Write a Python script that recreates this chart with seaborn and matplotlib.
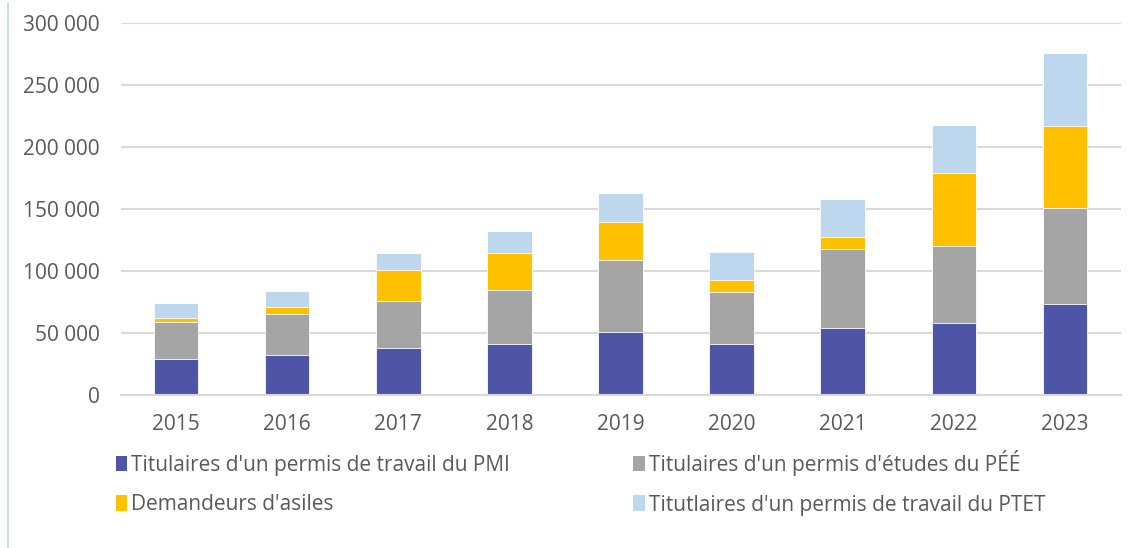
import seaborn as sns
import matplotlib.pyplot as plt
import pandas as pd
from matplotlib.patches import Patch
from matplotlib.lines import Line2D
from matplotlib.ticker import FuncFormatter

years = ["2015", "2016", "2017", "2018", "2019", "2020", "2021", "2022", "2023"]
pmi = [29300, 32300, 37600, 41100, 51100, 41100, 54300, 58300, 73400]
pee = [29800, 33300, 37900, 43900, 57500, 42200, 63400, 62100, 77600]
asile = [3200, 5600, 25500, 29500, 31200, 9700, 9900, 58900, 65900]
ptet = [11900, 12400, 13500, 17500, 23100, 22300, 30400, 38400, 58900]

labels = ["Titulaires d'un permis de travail du PMI",
          "Titulaires d'un permis d'études du PÉÉ",
          "Demandeurs d'asiles",
          "Titutlaires d'un permis de travail du PTET"]
colors = ["#4F55A6", "#A5A5A5", "#FFC000", "#BDD7EE"]

sns.set_style("white")
plt.rcParams["font.family"] = ["Open Sans", "DejaVu Sans"]

df = pd.DataFrame({"year": years, "pmi": pmi, "pee": pee, "asile": asile, "ptet": ptet})
df["c1"] = df["pmi"]
df["c2"] = df["c1"] + df["pee"]
df["c3"] = df["c2"] + df["asile"]
df["c4"] = df["c3"] + df["ptet"]

fig = plt.figure(figsize=(11.4, 5.48), dpi=100)
ax = fig.add_axes([120.5 / 1140, 1 - 395 / 548, 1000 / 1140, 372 / 548])

# draw cumulative totals from the top down so each layer covers the next
for col, color in zip(["c4", "c3", "c2", "c1"], colors[::-1]):
    sns.barplot(data=df, x="year", y=col, color=color, width=0.4,
                saturation=1, edgecolor="white", linewidth=0.6, ax=ax)

ax.set_ylim(0, 300000)
ax.set_yticks(range(0, 300001, 50000))
ax.yaxis.set_major_formatter(FuncFormatter(lambda v, p: f"{int(v):,}".replace(",", " ")))
ax.set_xlabel("")
ax.set_ylabel("")
ax.grid(axis="y", color="#D9D9D9", linewidth=1.5)
ax.set_axisbelow(True)
sns.despine(ax=ax, left=True, right=True, top=True)
ax.spines["bottom"].set_color("#D9D9D9")
ax.spines["bottom"].set_linewidth(1.5)
ax.tick_params(axis="y", length=0, pad=15, labelsize=15, labelcolor="#595959")
ax.tick_params(axis="x", length=0, pad=14, labelsize=15, labelcolor="#595959")

handles = [Patch(facecolor=c, edgecolor="none") for c in colors]
order = [0, 2, 1, 3]
fig.legend([handles[i] for i in order], [labels[i] for i in order],
           ncol=2, loc="upper left", bbox_to_anchor=(97 / 1140, 1 - 431 / 548),
           frameon=False, fontsize=15, labelcolor="#595959",
           handlelength=0.55, handleheight=0.8, handletextpad=0.2,
           labelspacing=0.9, columnspacing=5.9)

fig.add_artist(Line2D([8 / 1140, 8 / 1140], [0, 1 - 3 / 548],
                      transform=fig.transFigure, color="#BDD7EE", linewidth=1.2))

fig.savefig("out.png", dpi=100)
